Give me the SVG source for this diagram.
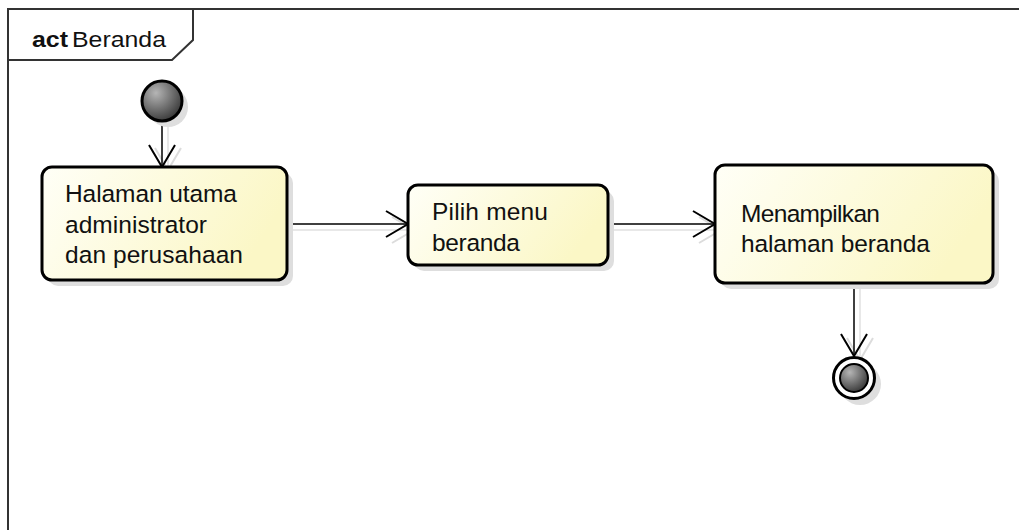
<svg xmlns="http://www.w3.org/2000/svg" width="1019" height="530" viewBox="0 0 1019 530">
<defs>
<linearGradient id="boxFill" x1="0" y1="0" x2="1" y2="0.3">
<stop offset="0" stop-color="#FFFFF7"/>
<stop offset="1" stop-color="#FBF7C6"/>
</linearGradient>
<radialGradient id="ballFill" cx="0.35" cy="0.3" r="0.8">
<stop offset="0" stop-color="#B5B5B5"/>
<stop offset="1" stop-color="#2E2E2E"/>
</radialGradient>
<marker id="arr" markerUnits="userSpaceOnUse" markerWidth="30" markerHeight="30" viewBox="-25 -15 30 30" refX="0" refY="0" orient="auto">
<path d="M -22 -13 L 0 0 L -22 13" fill="none" stroke="#000" stroke-width="2"/>
</marker>
<marker id="arrS" markerUnits="userSpaceOnUse" markerWidth="30" markerHeight="30" viewBox="-25 -15 30 30" refX="0" refY="0" orient="auto">
<path d="M -22 -13 L 0 0 L -22 13" fill="none" stroke="#dcdcdc" stroke-width="2"/>
</marker>
</defs>
<style>
.frame{fill:none;stroke:#333;stroke-width:2}
.box{fill:url(#boxFill);stroke:#000;stroke-width:3}
.shadow{fill:#dedede;stroke:none}
.edge{fill:none;stroke:#000;stroke-width:1.5;marker-end:url(#arr)}
.edgeS{fill:none;stroke:#e0e0e0;stroke-width:1.5;marker-end:url(#arrS)}
.lbl{font-family:"Liberation Sans",Arial,sans-serif;font-size:24.5px;fill:#111}
.title{font-family:"Liberation Sans",Arial,sans-serif;font-size:22.5px;fill:#111}
</style>
<rect width="1019" height="530" fill="#fff"/>
<g id="frame">
<path class="frame" d="M 8 530 L 8 9 L 1019 9"/>
<path class="frame" d="M 8 60 L 172 60 L 193 40 L 193 9"/>
<text class="title" x="32" y="47"><tspan font-weight="bold" textLength="36" lengthAdjust="spacingAndGlyphs">act</tspan><tspan x="72" textLength="94" lengthAdjust="spacingAndGlyphs">Beranda</tspan></text>
</g>
<g id="connectors">
<line class="edgeS" x1="168" y1="127" x2="168" y2="170"/>
<line class="edgeS" x1="293" y1="230" x2="414" y2="230"/>
<line class="edgeS" x1="614" y1="230" x2="721" y2="230"/>
<line class="edgeS" x1="860" y1="289" x2="860" y2="360"/>
<line class="edge" x1="162" y1="121" x2="162" y2="167"/>
<line class="edge" x1="287" y1="224" x2="408" y2="224"/>
<line class="edge" x1="608" y1="224" x2="715" y2="224"/>
<line class="edge" x1="854" y1="283" x2="854" y2="356"/>
</g>
<g id="start">
<circle class="shadow" cx="168" cy="107" r="20"/>
<circle cx="162" cy="101" r="20" fill="url(#ballFill)" stroke="#000" stroke-width="3"/>
</g>
<g id="node1">
<rect class="shadow" x="48" y="173" width="245" height="113" rx="10"/>
<rect class="box" x="42" y="167" width="245" height="113" rx="10"/>
<text class="lbl" x="65" y="202" textLength="172" lengthAdjust="spacing">Halaman utama</text>
<text class="lbl" x="65" y="233" textLength="142" lengthAdjust="spacing">administrator</text>
<text class="lbl" x="65" y="263" textLength="178" lengthAdjust="spacing">dan perusahaan</text>
</g>
<g id="node2">
<rect class="shadow" x="414" y="191" width="200" height="80" rx="10"/>
<rect class="box" x="408" y="185" width="200" height="80" rx="10"/>
<text class="lbl" x="432" y="220" textLength="116" lengthAdjust="spacing">Pilih menu</text>
<text class="lbl" x="432" y="251" textLength="88" lengthAdjust="spacing">beranda</text>
</g>
<g id="node3">
<rect class="shadow" x="721" y="171" width="278" height="118" rx="10"/>
<rect class="box" x="715" y="165" width="278" height="118" rx="10"/>
<text class="lbl" x="741" y="222" textLength="139" lengthAdjust="spacing">Menampilkan</text>
<text class="lbl" x="741" y="252" textLength="189" lengthAdjust="spacing">halaman beranda</text>
</g>
<g id="end">
<circle class="shadow" cx="860" cy="384" r="21"/>
<circle cx="854" cy="378" r="20.5" fill="#fff" stroke="#000" stroke-width="3"/>
<circle cx="854" cy="378" r="14" fill="url(#ballFill)" stroke="#000" stroke-width="2"/>
</g>
</svg>
